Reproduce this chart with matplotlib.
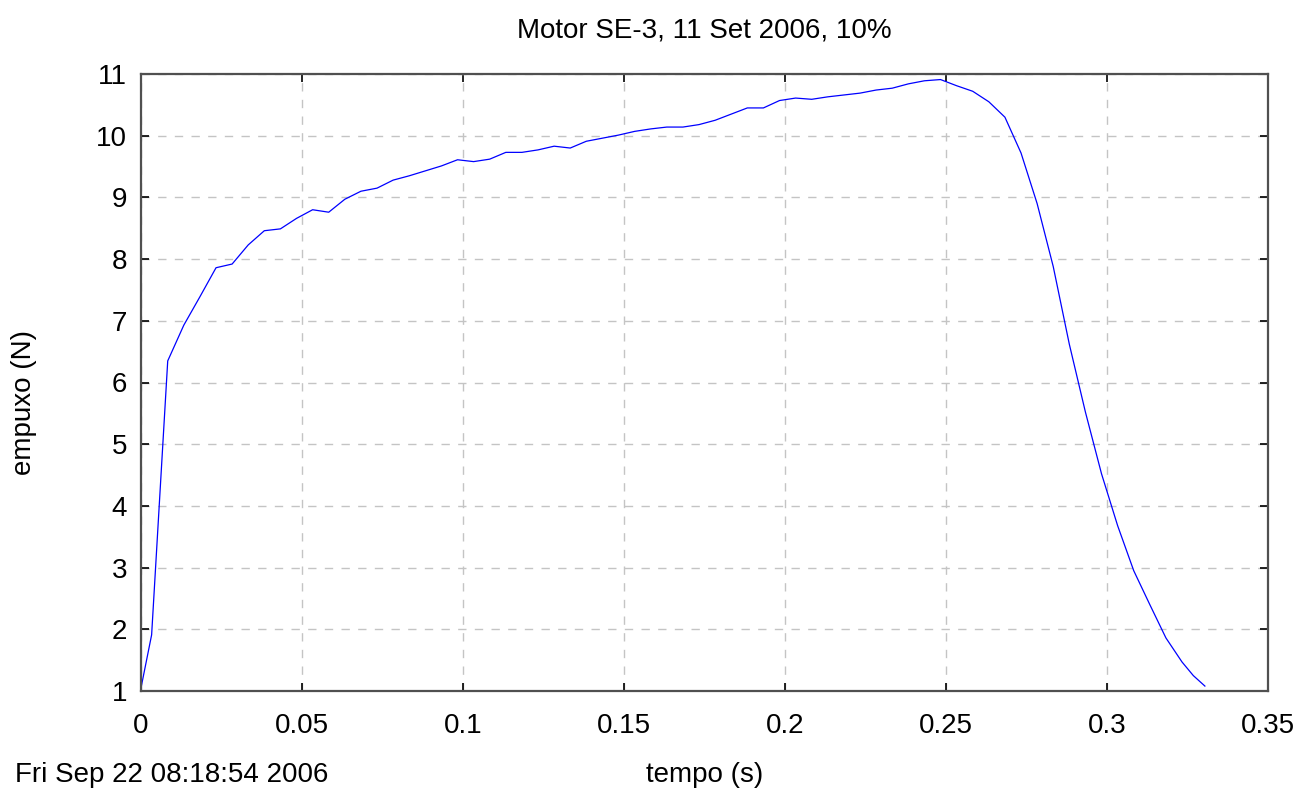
import matplotlib
matplotlib.use('Agg')
import matplotlib.pyplot as plt

# tempo (s) e empuxo (N)
tempo = [0.0, 0.0033, 0.0083, 0.0133, 0.0183, 0.0233, 0.0283, 0.0333, 0.0383, 0.0433,
         0.0483, 0.0533, 0.0583, 0.0633, 0.0683, 0.0733, 0.0783, 0.0833, 0.0883, 0.0933,
         0.0983, 0.1033, 0.1083, 0.1133, 0.1183, 0.1233, 0.1283, 0.1333, 0.1383, 0.1433,
         0.1483, 0.1533, 0.1583, 0.1633, 0.1683, 0.1733, 0.1783, 0.1833, 0.1883, 0.1933,
         0.1983, 0.2033, 0.2083, 0.2133, 0.2183, 0.2233, 0.2283, 0.2333, 0.2383, 0.2433,
         0.2483, 0.2533, 0.2583, 0.2633, 0.2683, 0.2733, 0.2783, 0.2833, 0.2883, 0.2933,
         0.2983, 0.3033, 0.3083, 0.3133, 0.3183, 0.3233, 0.3268, 0.3304]
empuxo = [1.05, 1.91, 6.35, 6.93, 7.39, 7.86, 7.92, 8.23, 8.46, 8.49,
          8.66, 8.80, 8.76, 8.97, 9.10, 9.15, 9.28, 9.35, 9.43, 9.51,
          9.61, 9.58, 9.62, 9.73, 9.73, 9.77, 9.83, 9.80, 9.91, 9.96,
          10.01, 10.07, 10.11, 10.14, 10.14, 10.18, 10.25, 10.35, 10.45, 10.45,
          10.57, 10.61, 10.59, 10.63, 10.66, 10.69, 10.74, 10.77, 10.84, 10.89,
          10.91, 10.81, 10.72, 10.55, 10.30, 9.72, 8.90, 7.88, 6.62, 5.52,
          4.52, 3.68, 2.95, 2.40, 1.86, 1.47, 1.25, 1.08]

xticks = [0, 0.05, 0.1, 0.15, 0.2, 0.25, 0.3, 0.35]
xtick_labels = ['0', '0.05', '0.1', '0.15', '0.2', '0.25', '0.3', '0.35']
yticks = [1, 2, 3, 4, 5, 6, 7, 8, 9, 10, 11]

plt.rcParams['font.family'] = ['Liberation Sans', 'DejaVu Sans']
plt.rcParams['font.size'] = 20

fig = plt.figure(figsize=(13.03, 7.96), dpi=100)
ax = fig.add_axes([141 / 1303, 1 - 691 / 796, 1127 / 1303, 617 / 796])

ax.plot(tempo, empuxo, color='#0000ff', lw=0.9)

ax.set_xlim(0, 0.35)
ax.set_ylim(1, 11)
ax.set_xticks(xticks)
ax.set_xticklabels(xtick_labels)
ax.set_yticks(yticks)
ax.tick_params(direction='in', length=6, width=1.2, color='black',
               top=True, right=True, labelsize=20)
ax.tick_params(axis='x', pad=16)
ax.tick_params(axis='y', pad=10)

ax.grid(True, color='#c4c4c4', linestyle=(0, (6, 6)), lw=1.0)
for s in ax.spines.values():
    s.set_color('#505050')
    s.set_linewidth(1.6)

ax.set_title('Motor SE-3, 11 Set 2006, 10%', fontsize=20, pad=26)
ax.set_xlabel('tempo (s)', va='center')
ax.xaxis.set_label_coords(0.5, -0.136)
ax.set_ylabel('empuxo (N)', va='center')
ax.yaxis.set_label_coords(-0.104, 0.467)

fig.text(15 / 1303, 1 - 775 / 796, 'Fri Sep 22 08:18:54 2006', fontsize=20,
         ha='left', va='center')

fig.savefig('out.png', dpi=100)
